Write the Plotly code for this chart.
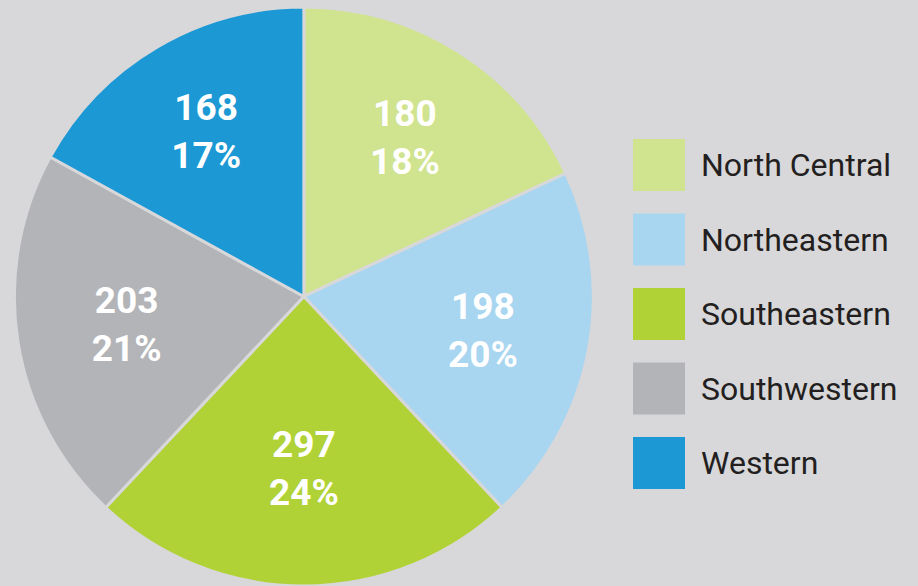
import plotly.graph_objects as go

# Data
categories = ["North Central", "Northeastern", "Southeastern", "Southwestern", "Western"]
counts = [180, 198, 297, 203, 168]
percents = [18, 20, 24, 21, 17]
colors = ["#d0e38f", "#a8d5ef", "#b0d236", "#b3b4b8", "#1c98d4"]

BG = "#d8d8da"
FONT = "Roboto"

fig = go.Figure()
fig.add_trace(go.Pie(
    labels=categories,
    values=percents,
    customdata=counts,
    sort=False,
    direction="clockwise",
    rotation=0,
    marker=dict(colors=colors, line=dict(color=BG, width=3)),
    texttemplate="<b>%{customdata}<br>%{value}%</b>",
    textposition="inside",
    insidetextorientation="horizontal",
    textfont=dict(family=FONT, size=37, color="white"),
    domain=dict(x=[0.0, 0.662], y=[0.0, 0.988]),
    showlegend=False,
    hoverinfo="label+value",
))

# Custom legend (large square swatches)
shapes = []
annotations = []
top = 139
step = 74.5
size = 52
for i, (name, col) in enumerate(zip(categories, colors)):
    y0 = top + i * step
    shapes.append(dict(
        type="rect", xref="paper", yref="paper",
        x0=633 / 918, x1=(633 + size) / 918,
        y0=1 - (y0 + size) / 586, y1=1 - y0 / 586,
        fillcolor=col, line=dict(width=0),
    ))
    annotations.append(dict(
        xref="paper", yref="paper",
        x=699 / 918, y=1 - (y0 + size / 2) / 586,
        xanchor="left", yanchor="middle",
        text=name, showarrow=False,
        font=dict(family=FONT, size=32, color="#231f20"),
    ))

fig.update_layout(
    width=918, height=586,
    margin=dict(l=0, r=0, t=0, b=0),
    paper_bgcolor=BG, plot_bgcolor=BG,
    shapes=shapes, annotations=annotations,
    uniformtext=dict(minsize=37, mode="show"),
)

fig.write_html(
    "out.html",
    config={"displayModeBar": False},
    post_script="document.body.style.margin='0';document.body.style.background='%s';" % BG,
)
